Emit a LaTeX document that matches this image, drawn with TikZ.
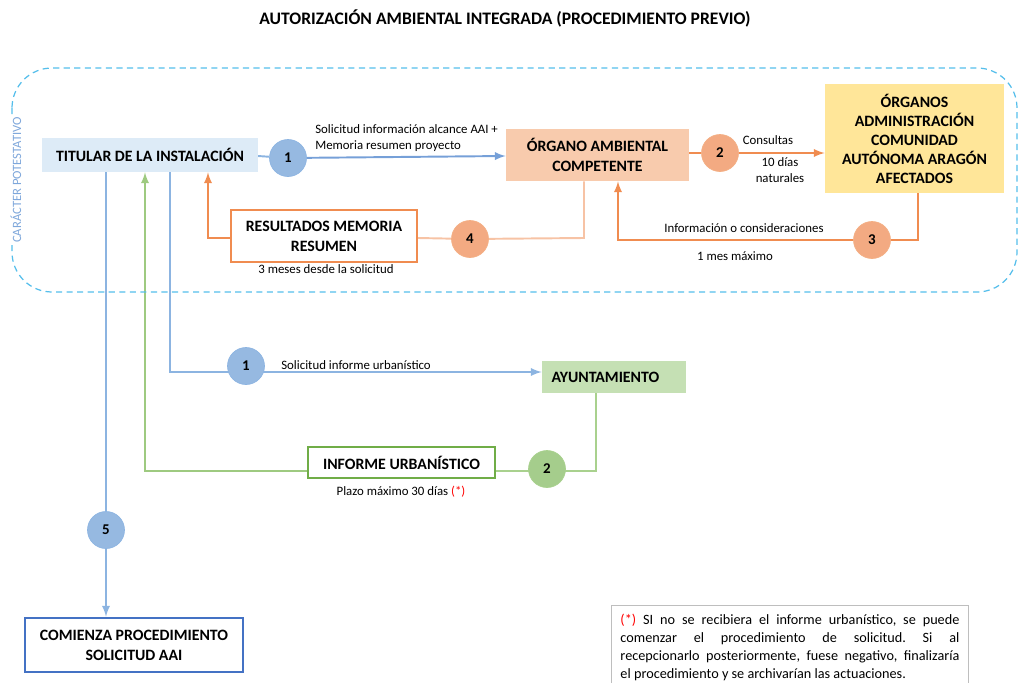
\documentclass[tikz,border=0pt]{standalone}
\usepackage{fontspec}
\setmainfont{Carlito}
\usepackage{tikz}
\usetikzlibrary{shapes,arrows,backgrounds}
\definecolor{dashblue}{RGB}{85,190,235}
\definecolor{titblue}{RGB}{221,235,247}
\definecolor{lineblue}{RGB}{140,180,225}
\definecolor{darkblue}{RGB}{68,114,196}
\definecolor{numblue}{RGB}{150,185,225}
\definecolor{orgfill}{RGB}{248,203,173}
\definecolor{lineorange}{RGB}{240,140,80}
\definecolor{paleorange}{RGB}{247,195,165}
\definecolor{numorange}{RGB}{243,170,130}
\definecolor{yellowfill}{RGB}{255,230,153}
\definecolor{greenfill}{RGB}{197,224,180}
\definecolor{linegreen}{RGB}{169,209,142}
\definecolor{boxgreen}{RGB}{112,173,71}
\definecolor{numgreen}{RGB}{165,205,140}
\definecolor{notegray}{RGB}{190,190,190}
\frenchspacing

\begin{document}
\begin{tikzpicture}[x=0.02cm,y=-0.02cm]
		\useasboundingbox (0,0) rectangle (1019,683);
		\tikzstyle{box}=[inner sep=2pt, align=center, font=\fontsize{9}{11.3}\selectfont\bfseries];
		\tikzstyle{num}=[circle, minimum size=0.74cm, inner sep=0pt, font=\fontsize{8.5}{9}\selectfont\bfseries];
		\tikzstyle{lbl}=[inner sep=0pt, font=\fontsize{7.3}{9.5}\selectfont];

		% titulo y zona potestativa
		\node[font=\fontsize{10}{12}\selectfont\bfseries] (title) at (505,18) {AUTORIZACIÓN AMBIENTAL INTEGRADA (PROCEDIMIENTO PREVIO)};
		\draw[dashblue, line width=0.7pt, dash pattern=on 3.5pt off 2.5pt, rounded corners=0.8cm] (12,68) rectangle (1017,292);
		\node[rotate=90, fill=white, inner sep=1pt, text=lineblue!80!darkblue, font=\fontsize{7.2}{8}\selectfont] (potest) at (16,180) {CARÁCTER POTESTATIVO};

		% nodos
		\node[box, fill=titblue, minimum width=4.32cm, minimum height=0.68cm] (titular) at (150,155) {TITULAR DE LA INSTALACIÓN};
		\node[box, fill=orgfill, minimum width=3.66cm, minimum height=1.04cm] (organo) at (597.5,155) {ÓRGANO AMBIENTAL\\COMPETENTE};
		\node[box, fill=yellowfill, minimum width=3.58cm, minimum height=2.18cm, font=\fontsize{9}{10.8}\selectfont\bfseries] (organos) at (914.5,138.5) {ÓRGANOS\\ADMINISTRACIÓN\\COMUNIDAD\\AUTÓNOMA ARAGÓN\\AFECTADOS};
		\node[box, draw=lineorange, line width=1.2pt, fill=white, minimum width=3.72cm, minimum height=1.04cm] (resultados) at (324,236) {RESULTADOS MEMORIA\\RESUMEN};
		\node[box, fill=greenfill, minimum width=2.88cm, minimum height=0.64cm, text width=2.5cm, align=left] (ayto) at (614,377) {AYUNTAMIENTO};
		\node[box, draw=boxgreen, line width=1.1pt, fill=white, minimum width=3.74cm, minimum height=0.62cm] (informe) at (401.5,462.5) {INFORME URBANÍSTICO};
		\node[box, draw=darkblue, line width=1.6pt, fill=white, minimum width=4.36cm, minimum height=1.08cm] (comienza) at (134,645) {COMIENZA PROCEDIMIENTO\\SOLICITUD AAI};

		\node[num, fill=numblue, draw=lineblue] (n1) at (288,158) {1};
		\node[num, fill=numorange, draw=lineorange!70] (n2) at (720,153) {2};
		\node[num, fill=numorange, draw=lineorange!70] (n3) at (872,240) {3};
		\node[num, fill=numorange, draw=lineorange!70] (n4) at (470,239) {4};
		\node[num, fill=numblue, draw=lineblue] (u1) at (246,366) {1};
		\node[num, fill=numgreen, draw=linegreen] (u2) at (547,469) {2};
		\node[num, fill=numblue, draw=lineblue] (n5) at (106,530) {5};

		% textos
		\node[lbl, anchor=west, align=left] (lsolic) at (315,138) {Solicitud información alcance AAI +\\Memoria resumen proyecto};
		\node[lbl] (lcons) at (768,140) {Consultas};
		\node[lbl, align=center] (ldias) at (780,170) {10 días\\naturales};
		\node[lbl] (linfo) at (744,228) {Información o consideraciones};
		\node[lbl] (lmes) at (735,256) {1 mes máximo};
		\node[lbl] (lmeses) at (326,269) {3 meses desde la solicitud};
		\node[lbl, anchor=west] (lurb) at (281,365) {Solicitud informe urbanístico};
		\node[lbl] (lplazo) at (401,492) {Plazo máximo 30 días {\color{red}(*)}};
		\node[draw=notegray, line width=0.8pt, anchor=north west, text width=6.78cm, align=justify, inner sep=5pt, font=\fontsize{8.1}{10.2}\selectfont] (nota) at (611,605)
			{{\color{red}(*)} SI no se recibiera el informe urbanístico, se puede\linebreak comenzar el procedimiento de solicitud. Si al\linebreak recepcionarlo posteriormente, fuese negativo, finalizaría\linebreak el procedimiento y se archivarían las actuaciones.\\[6pt]};

		% conectores
		\coordinate (a3) at (918,240);
		\coordinate (b3) at (618,240);
		\coordinate (a4) at (584,238);
		\coordinate (b4) at (208,238);
		\coordinate (au) at (170,372);
		\coordinate (ag) at (145,471);
		\coordinate (a2) at (596,471);
		\coordinate (t1) at (258,156);

		\begin{pgfonlayer}{background}
		\draw[lineblue, line width=1.1pt] (t1) -- (n1);
		\draw[lineblue!70!darkblue, line width=1.1pt, -latex] (n1) -- (t1 -| organo.west);
		\draw[lineorange, line width=1.1pt] (organo.east |- n2) -- (n2);
		\draw[lineorange, line width=1.1pt, -latex] (n2) -- (n2 -| organos.west);
		\draw[lineorange, line width=1.1pt] (a3 |- organos.south) -- (a3) -- (n3);
		\draw[lineorange, line width=1.1pt, -latex] (n3) -- (b3) -- (b3 |- organo.south);
		\draw[paleorange, line width=1.1pt] (a4 |- organo.south) -- (a4) -- (n4);
		\draw[paleorange, line width=1.1pt] (n4) -- (a4 -| resultados.east);
		\draw[lineorange, line width=1.1pt, -latex] (b4 -| resultados.west) -- (b4) -- (b4 |- titular.south);
		\draw[lineblue, line width=1.1pt, -latex] (au |- titular.south) -- (au) -- (au -| ayto.west);
		\draw[linegreen, line width=1.1pt] (a2 |- ayto.south) -- (a2) -- (ag -| informe.east);
		\draw[linegreen!80!boxgreen, line width=1.1pt, -latex] (ag -| informe.west) -- (ag) -- (ag |- titular.south);
		\draw[lineblue, line width=1.1pt] (n5 |- titular.south) -- (n5);
		\draw[lineblue, line width=1.1pt, -latex] (n5) -- (n5 |- comienza.north);
		\end{pgfonlayer}
	\end{tikzpicture}
\end{document}
